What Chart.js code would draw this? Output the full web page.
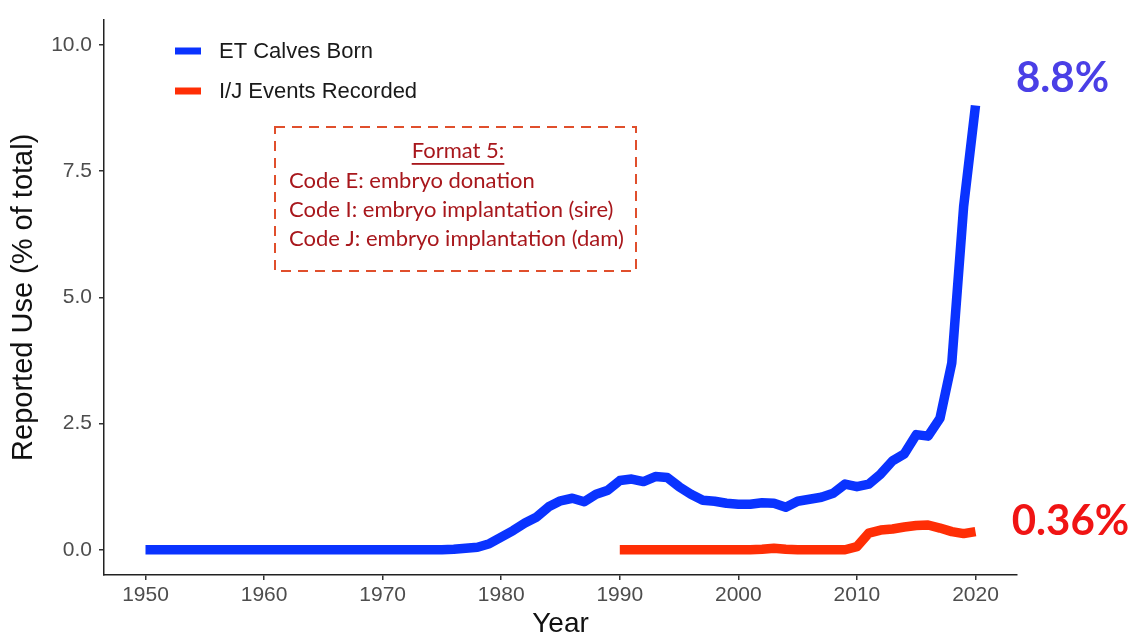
<!DOCTYPE html>
<html>
<head>
<meta charset="utf-8">
<script src="https://cdn.jsdelivr.net/npm/chart.js@4.4.1/dist/chart.umd.min.js"></script>
<style>
html,body{margin:0;padding:0;background:#fff;}
canvas{display:block;}
</style>
</head>
<body>
<canvas id="c" width="1134" height="641"></canvas>
<script>
// ---- data ----
const etYears = [1950,1951,1952,1953,1954,1955,1956,1957,1958,1959,1960,1961,1962,1963,1964,1965,1966,1967,1968,1969,1970,1971,1972,1973,1974,1975,1976,1977,1978,1979,1980,1981,1982,1983,1984,1985,1986,1987,1988,1989,1990,1991,1992,1993,1994,1995,1996,1997,1998,1999,2000,2001,2002,2003,2004,2005,2006,2007,2008,2009,2010,2011,2012,2013,2014,2015,2016,2017,2018,2019,2020];
const etValues = [0,0,0,0,0,0,0,0,0,0,0,0,0,0,0,0,0,0,0,0,0,0,0,0,0,0,0.01,0.03,0.05,0.12,0.25,0.38,0.53,0.65,0.85,0.97,1.02,0.95,1.10,1.18,1.37,1.40,1.35,1.45,1.43,1.25,1.10,0.98,0.96,0.92,0.90,0.90,0.93,0.92,0.84,0.96,1.00,1.04,1.12,1.30,1.25,1.30,1.50,1.76,1.90,2.28,2.25,2.60,3.70,6.80,8.80];
const ijYears = [1990,1991,1992,1993,1994,1995,1996,1997,1998,1999,2000,2001,2002,2003,2004,2005,2006,2007,2008,2009,2010,2011,2012,2013,2014,2015,2016,2017,2018,2019,2020];
const ijValues = [0,0,0,0,0,0,0,0,0,0,0,0,0.01,0.03,0.01,0,0,0,0,0,0.06,0.33,0.39,0.41,0.45,0.48,0.49,0.43,0.36,0.32,0.36];
const xTicks = [1950,1960,1970,1980,1990,2000,2010,2020];
const yTicks = [0,2.5,5,7.5,10];
const seriesNames = ["ET Calves Born","I/J Events Recorded"];
const seriesColors = ["#0a33ff","#ff2e05"];
const endLabels = ["8.8%","0.36%"];
const endLabelColors = ["#4a3fe6","#f01414"];
const boxTitle = "Format 5:";
const boxLines = ["Code E: embryo donation","Code I: embryo implantation (sire)","Code J: embryo implantation (dam)"];

const toPts = (xs, ys) => xs.map((x,i)=>({x:x, y:ys[i]}));

const overlay = {
  id:'overlay',
  afterDatasetsDraw(chart){
    const ctx = chart.ctx;
    const xs = chart.scales.x, ys = chart.scales.y;
    ctx.save();
    // legend
    ctx.font = '22px "Liberation Sans", Arial, sans-serif';
    ctx.textBaseline = 'middle';
    ctx.textAlign = 'left';
    const legY = [51, 91];
    seriesNames.forEach((n,i)=>{
      ctx.strokeStyle = seriesColors[i];
      ctx.lineWidth = 7;
      ctx.lineCap = 'butt';
      ctx.beginPath();
      ctx.moveTo(175, legY[i]); ctx.lineTo(201, legY[i]);
      ctx.stroke();
      ctx.fillStyle = '#1a1a1a';
      ctx.fillText(n, 219, legY[i]+1);
    });
    // dashed box
    ctx.strokeStyle = '#e04f2c';
    ctx.lineWidth = 2;
    ctx.setLineDash([10,7]);
    ctx.strokeRect(275, 127, 361, 144);
    ctx.setLineDash([]);
    ctx.fillStyle = '#a8171c';
    ctx.font = '22px Lato, "Open Sans", sans-serif';
    ctx.textAlign = 'center';
    ctx.fillText(boxTitle, 458, 151);
    const tw = ctx.measureText(boxTitle).width;
    ctx.fillRect(458 - tw/2, 163, tw, 1.8);
    ctx.textAlign = 'left';
    boxLines.forEach((t,i)=> ctx.fillText(t, 289, 181 + i*29));
    // end labels
    ctx.font = 'bold 42px Lato, "Open Sans", sans-serif';
    ctx.textAlign = 'center';
    ctx.fillStyle = endLabelColors[0];
    ctx.fillText(endLabels[0], xs.getPixelForValue(2020) + 87, ys.getPixelForValue(etValues[etValues.length-1]) - 27);
    ctx.fillStyle = endLabelColors[1];
    ctx.fillText(endLabels[1], xs.getPixelForValue(2020) + 95, ys.getPixelForValue(ijValues[ijValues.length-1]) - 10);
    ctx.restore();
  }
};

new Chart(document.getElementById('c'), {
  type:'line',
  data:{
    datasets:[
      {label:seriesNames[0], data:toPts(etYears, etValues), borderColor:seriesColors[0], backgroundColor:seriesColors[0], borderWidth:9.5, pointRadius:0, tension:0, borderCapStyle:'butt', borderJoinStyle:'round'},
      {label:seriesNames[1], data:toPts(ijYears, ijValues), borderColor:seriesColors[1], backgroundColor:seriesColors[1], borderWidth:9.5, pointRadius:0, tension:0, borderCapStyle:'butt', borderJoinStyle:'round'}
    ]
  },
  options:{
    responsive:false,
    animation:false,
    layout:{padding:{left:0, top:9, right:117, bottom:0}},
    plugins:{legend:{display:false}, tooltip:{enabled:false}},
    scales:{
      x:{
        type:'linear', min:1946.5, max:2023.5,
        afterBuildTicks(s){ s.ticks = xTicks.map(v=>({value:v})); },
        afterFit(s){ s.height = 66; },
        ticks:{color:'#4d4d4d', font:{family:'"Liberation Sans", Arial, sans-serif', size:21}, padding:3, maxRotation:0, callback:v=>String(v)},
        grid:{display:true, drawOnChartArea:false, drawTicks:true, tickLength:5, color:'#333', lineWidth:1.5},
        border:{display:true, color:'#222', width:1.5},
        title:{display:true, text:'Year', color:'#111', font:{family:'"Liberation Sans", Arial, sans-serif', size:28}, padding:{top:0,bottom:0}}
      },
      y:{
        type:'linear', min:-0.5, max:10.5,
        afterBuildTicks(s){ s.ticks = yTicks.map(v=>({value:v})); },
        afterFit(s){ s.width = 104; },
        ticks:{color:'#4d4d4d', font:{family:'"Liberation Sans", Arial, sans-serif', size:21}, padding:7, callback:v=>Number(v).toFixed(1)},
        grid:{display:true, drawOnChartArea:false, drawTicks:true, tickLength:5, color:'#333', lineWidth:1.5},
        border:{display:true, color:'#222', width:1.5},
        title:{display:true, text:'Reported Use (% of total)', color:'#111', font:{family:'"Liberation Sans", Arial, sans-serif', size:29}, padding:{top:7,bottom:0}}
      }
    }
  },
  plugins:[overlay]
});
</script>
</body>
</html>
